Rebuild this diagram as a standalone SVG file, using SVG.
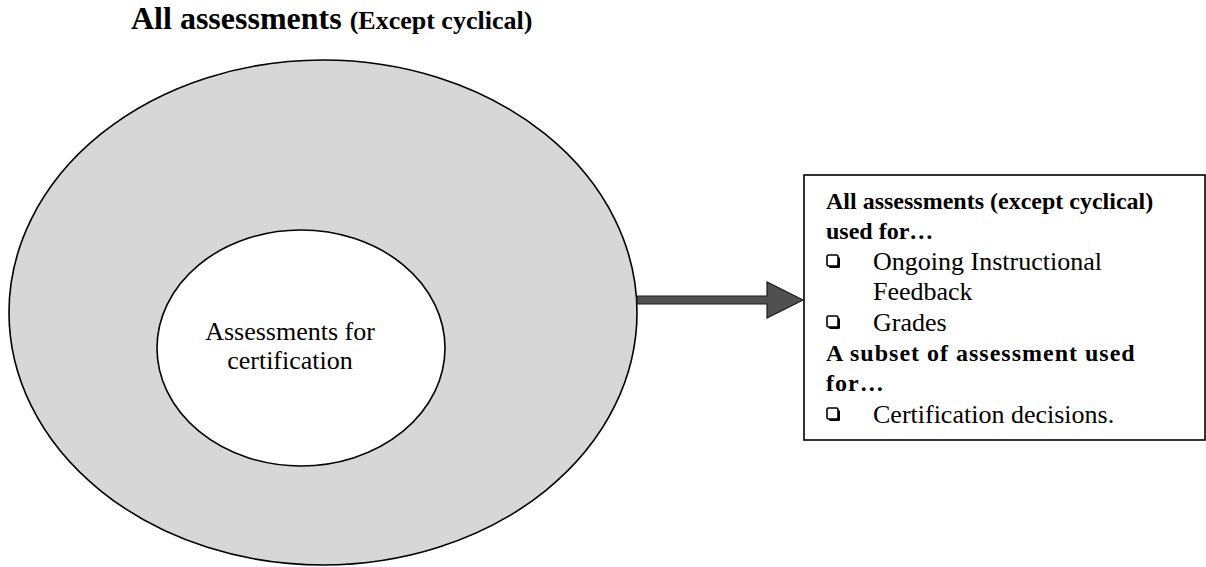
<svg xmlns="http://www.w3.org/2000/svg" width="1206" height="567" viewBox="0 0 1206 567">
  <style>
    text { font-family: "Liberation Serif", "Times New Roman", serif; fill: #000; }
    .b { font-weight: bold; }
    .outline { stroke: #000; stroke-width: 1.6; }
    .bullet { fill: #fff; stroke: #000; stroke-width: 1.6; }
  </style>
  <defs>
    <g id="bul">
      <rect x="2" y="2" width="11" height="11" rx="1.5" fill="#000"/>
      <rect x="0" y="0" width="11" height="11" rx="1.5" class="bullet"/>
    </g>
  </defs>
  <rect width="1206" height="567" fill="#fff"/>

  <g id="title">
    <text class="b" x="131" y="29"><tspan font-size="32">All assessments </tspan><tspan font-size="26">(Except cyclical)</tspan></text>
  </g>

  <g id="outer">
    <ellipse cx="323" cy="312.5" rx="314" ry="252.5" fill="#d7d7d7" class="outline"/>
  </g>

  <g id="inner">
    <ellipse cx="301" cy="348" rx="144" ry="118" fill="#fff" class="outline"/>
    <text font-size="26" text-anchor="middle" x="290" y="340">Assessments for</text>
    <text font-size="26" text-anchor="middle" x="290" y="369">certification</text>
  </g>

  <g id="connectors">
    <path d="M637,296 L767,296 L767,282 L803,300 L767,318 L767,304 L637,304 Z" fill="#505050" stroke="#1a1a1a" stroke-width="1.2" stroke-linejoin="miter"/>
  </g>

  <g id="box">
    <rect x="804" y="175" width="401" height="265" fill="#fff" class="outline"/>
    <text class="b" font-size="24" x="826" y="209">All assessments (except cyclical)</text>
    <text class="b" font-size="24" x="826" y="239">used for…</text>
    <use href="#bul" x="827" y="255"/>
    <text font-size="26" x="873" y="270">Ongoing Instructional</text>
    <text font-size="26" x="873" y="300">Feedback</text>
    <use href="#bul" x="827" y="316"/>
    <text font-size="26" x="873" y="331">Grades</text>
    <text class="b" font-size="24" x="826" y="361" letter-spacing="1">A subset of assessment used</text>
    <text class="b" font-size="24" x="826" y="391" letter-spacing="1">for…</text>
    <use href="#bul" x="827" y="408"/>
    <text font-size="26" x="873" y="423">Certification decisions.</text>
  </g>
</svg>
